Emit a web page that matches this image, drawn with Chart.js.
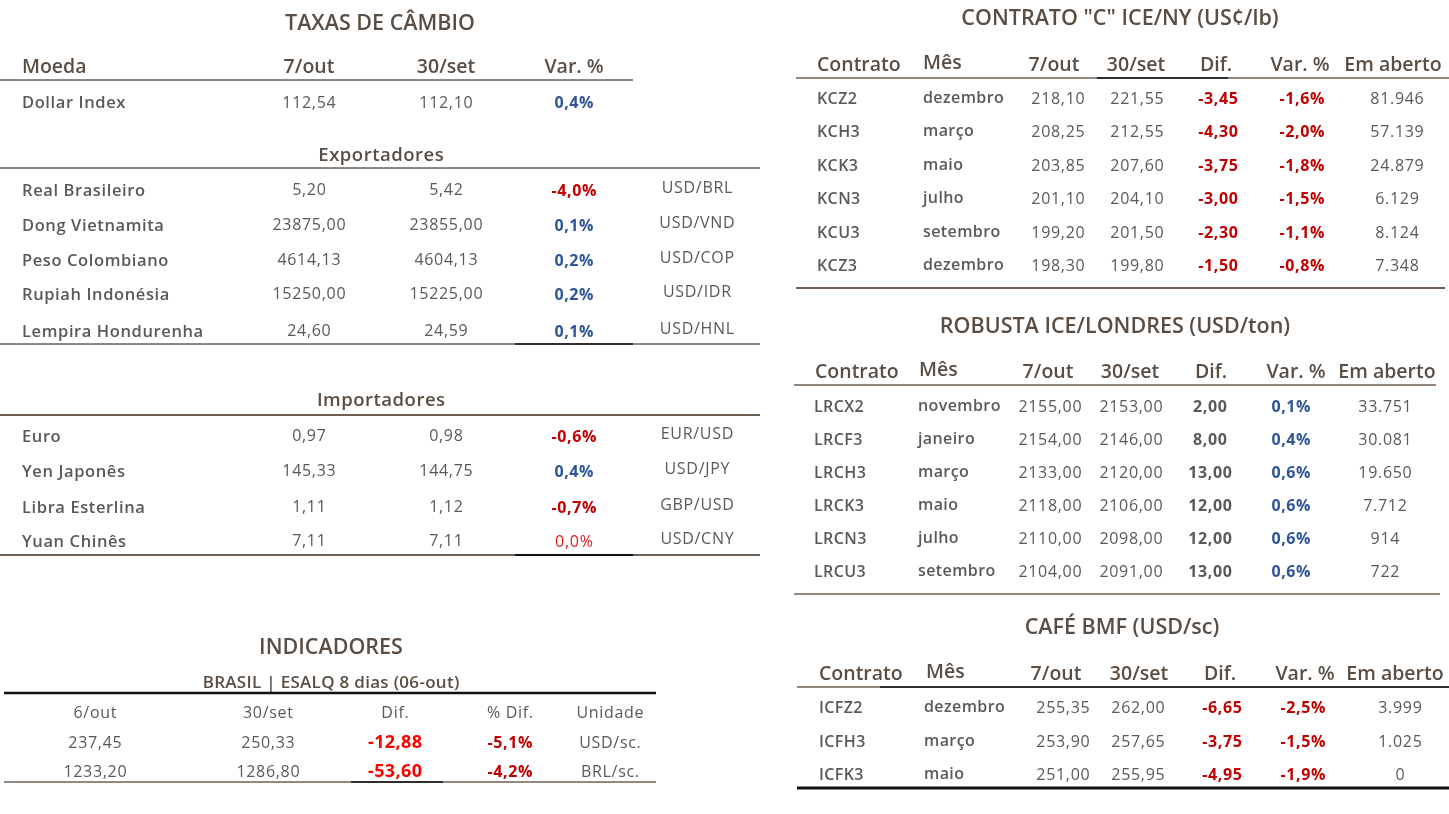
<!DOCTYPE html>
<html>
<head>
<meta charset="utf-8">
<script src="https://cdn.jsdelivr.net/npm/chart.js@4.4.0/dist/chart.umd.min.js"></script>
<style>
html,body{margin:0;padding:0;background:#fff;}
#wrap{width:1449px;height:814px;position:relative;}
</style>
</head>
<body>
<div id="wrap"><canvas id="c"></canvas></div>
<script>
// ===== DATA =====
const fxTitle = 'TAXAS DE CÂMBIO';
const fxHeader = ['Moeda', '7/out', '30/set', 'Var. %'];
const dollarIndex = ['Dollar Index', '112,54', '112,10', '0,4%'];

const exportTitle = 'Exportadores';
const exportNames = ['Real Brasileiro', 'Dong Vietnamita', 'Peso Colombiano', 'Rupiah Indonésia', 'Lempira Hondurenha'];
const export7out = ['5,20', '23875,00', '4614,13', '15250,00', '24,60'];
const export30set = ['5,42', '23855,00', '4604,13', '15225,00', '24,59'];
const exportVar = ['-4,0%', '0,1%', '0,2%', '0,2%', '0,1%'];
const exportPairs = ['USD/BRL', 'USD/VND', 'USD/COP', 'USD/IDR', 'USD/HNL'];

const importTitle = 'Importadores';
const importNames = ['Euro', 'Yen Japonês', 'Libra Esterlina', 'Yuan Chinês'];
const import7out = ['0,97', '145,33', '1,11', '7,11'];
const import30set = ['0,98', '144,75', '1,12', '7,11'];
const importVar = ['-0,6%', '0,4%', '-0,7%', '0,0%'];
const importPairs = ['EUR/USD', 'USD/JPY', 'GBP/USD', 'USD/CNY'];

const indTitle = 'INDICADORES';
const indSubtitle = 'BRASIL | ESALQ 8 dias (06-out)';
const indHeader = ['6/out', '30/set', 'Dif.', '% Dif.', 'Unidade'];
const ind6out = ['237,45', '1233,20'];
const ind30set = ['250,33', '1286,80'];
const indDif = ['-12,88', '-53,60'];
const indPctDif = ['-5,1%', '-4,2%'];
const indUnit = ['USD/sc.', 'BRL/sc.'];

const contractHeader = ['Contrato', 'Mês', '7/out', '30/set', 'Dif.', 'Var. %', 'Em aberto'];

const kcTitle = 'CONTRATO "C" ICE/NY (US¢/lb)';
const kcCodes = ['KCZ2', 'KCH3', 'KCK3', 'KCN3', 'KCU3', 'KCZ3'];
const kcMonths = ['dezembro', 'março', 'maio', 'julho', 'setembro', 'dezembro'];
const kc7out = ['218,10', '208,25', '203,85', '201,10', '199,20', '198,30'];
const kc30set = ['221,55', '212,55', '207,60', '204,10', '201,50', '199,80'];
const kcDif = ['-3,45', '-4,30', '-3,75', '-3,00', '-2,30', '-1,50'];
const kcVar = ['-1,6%', '-2,0%', '-1,8%', '-1,5%', '-1,1%', '-0,8%'];
const kcOpen = ['81.946', '57.139', '24.879', '6.129', '8.124', '7.348'];

const lrTitle = 'ROBUSTA ICE/LONDRES (USD/ton)';
const lrCodes = ['LRCX2', 'LRCF3', 'LRCH3', 'LRCK3', 'LRCN3', 'LRCU3'];
const lrMonths = ['novembro', 'janeiro', 'março', 'maio', 'julho', 'setembro'];
const lr7out = ['2155,00', '2154,00', '2133,00', '2118,00', '2110,00', '2104,00'];
const lr30set = ['2153,00', '2146,00', '2120,00', '2106,00', '2098,00', '2091,00'];
const lrDif = ['2,00', '8,00', '13,00', '12,00', '12,00', '13,00'];
const lrVar = ['0,1%', '0,4%', '0,6%', '0,6%', '0,6%', '0,6%'];
const lrOpen = ['33.751', '30.081', '19.650', '7.712', '914', '722'];

const icfTitle = 'CAFÉ BMF (USD/sc)';
const icfCodes = ['ICFZ2', 'ICFH3', 'ICFK3'];
const icfMonths = ['dezembro', 'março', 'maio'];
const icf7out = ['255,35', '253,90', '251,00'];
const icf30set = ['262,00', '257,65', '255,95'];
const icfDif = ['-6,65', '-3,75', '-4,95'];
const icfVar = ['-2,5%', '-1,5%', '-1,9%'];
const icfOpen = ['3.999', '1.025', '0'];

// ===== STYLE =====
const FAM = '"Open Sans", "Lato", sans-serif';
const C = {
  title: '#5a4e44', text: '#595959', line: '#6e6154', black: '#111111',
  blue: '#2e5597', red: '#c00000', bright: '#ff0000', redLight: '#e0201c'
};
// [font, letterSpacing]
const F = {
  title: ['600 21.5px ' + FAM, 0],
  head: ['600 19.5px ' + FAM, 0],
  sub: ['600 18.5px ' + FAM, 0.5],
  indSub: ['600 17px ' + FAM, 0.3],
  label: ['600 16px ' + FAM, 0.4],
  fxLabel: ['600 16.5px ' + FAM, 0.6],
  num: ['400 16px ' + FAM, 0.7],
  numB: ['700 16px ' + FAM, 0.6],
  bigRed: ['700 18px ' + FAM, 0.4]
};
const DY = 2; // baseline tweak
const varColor = s => s.startsWith('-') ? C.red : (/^0,0/.test(s) ? C.bright : C.blue);

// ===== LAYOUT (positions in scale units) =====
const L = {
  fx: {title: [380, 22], headY: 65, headLine: [80, 0, 633], cols: [22, 309, 446, 574, 697],
       dollarY: 101, expTitleY: 154, expLine: 168, expRows: [189, 224, 259, 293, 330],
       expEnd: 344, impTitleY: 399, impLine: 415, impRows: [435, 470, 506, 540], impEnd: 555,
       tableW: 760, blackSeg: [515, 633]},
  ind: {title: [331, 646], sub: [331, 681], topLine: [693, 4, 656], headY: 711,
        cols: [95, 268, 395, 510, 610], rows: [741, 770], bottom: 782, blackSeg: [351, 443]},
  kc: {title: [1120, 17], headY: 63, line: [78, 796, 1449], lineBlack: [1097, 1228],
       cols: [817, 923, 1058, 1137, 1218, 1302, 1397], headCols: [817, 923, 1054, 1136, 1216, 1300, 1393],
       rows: [97, 130, 164, 197, 231, 264], bottom: [288, 796, 1445, 2]},
  lr: {title: [1115, 325], headY: 370, line: [385, 794, 1436], lineBlack: null,
       cols: [814, 918, 1050, 1131, 1210, 1291, 1385], headCols: [815, 919, 1048, 1130, 1211, 1296, 1387],
       rows: [405, 438, 471, 504, 537, 570], bottom: [594, 794, 1440, 1.3]},
  icf: {title: [1122, 626], headY: 672, line: [687, 797, 1449], lineBlack: [880, 1449],
        cols: [819, 924, 1063, 1138, 1222, 1303, 1400], headCols: [819, 926, 1056, 1139, 1220, 1305, 1395],
        rows: [706, 740, 773], bottom: [788, 797, 1449, 3, true]}
};

// ===== DRAWING PLUGIN =====
const tablePlugin = {
  id: 'tables',
  afterDraw(chart) {
    const ctx = chart.ctx;
    const X = v => chart.scales.x.getPixelForValue(v);
    const Y = v => chart.scales.y.getPixelForValue(v);
    const T = (s, x, y, f, color, align) => {
      ctx.font = f[0]; ctx.fillStyle = color;
      const ls = f[1] || 0;
      ctx.letterSpacing = ls + 'px';
      align = align || 'center';
      ctx.textAlign = align;
      ctx.textBaseline = 'middle';
      const shift = align === 'center' ? ls / 2 : 0;
      ctx.fillText(s, X(x) + shift, Y(y + DY));
    };
    const H = (y, x1, x2, w, color) => {
      ctx.beginPath(); ctx.strokeStyle = color; ctx.lineWidth = w;
      ctx.moveTo(X(x1), Y(y)); ctx.lineTo(X(x2), Y(y)); ctx.stroke();
    };
    ctx.save();

    // --- FX table ---
    const fx = L.fx;
    T(fxTitle, fx.title[0], fx.title[1], F.title, C.title);
    T(fxHeader[0], fx.cols[0], fx.headY, F.head, C.title, 'left');
    for (let i = 1; i < 4; i++) T(fxHeader[i], fx.cols[i], fx.headY, F.head, C.title);
    H(fx.headLine[0], fx.headLine[1], fx.headLine[2], 1.3, C.line);
    T(dollarIndex[0], fx.cols[0], fx.dollarY, F.fxLabel, C.text, 'left');
    T(dollarIndex[1], fx.cols[1], fx.dollarY, F.num, C.text);
    T(dollarIndex[2], fx.cols[2], fx.dollarY, F.num, C.text);
    T(dollarIndex[3], fx.cols[3], fx.dollarY, F.numB, varColor(dollarIndex[3]));

    const fxRows = (names, a, b, v, p, ys) => {
      names.forEach((n, i) => {
        const y = ys[i];
        T(n, fx.cols[0], y, F.fxLabel, C.text, 'left');
        T(a[i], fx.cols[1], y - 1, F.num, C.text);
        T(b[i], fx.cols[2], y - 1, F.num, C.text);
        const isZero = /^0,0/.test(v[i]);
        T(v[i], fx.cols[3], y, isZero ? F.num : F.numB, isZero ? C.redLight : varColor(v[i]));
        T(p[i], fx.cols[4], y - 3, F.num, C.text);
      });
    };
    T(exportTitle, 381, fx.expTitleY, F.sub, C.title);
    H(fx.expLine, 0, fx.tableW, 1.3, C.line);
    fxRows(exportNames, export7out, export30set, exportVar, exportPairs, fx.expRows);
    H(fx.expEnd, 0, fx.tableW, 1.3, C.line);
    H(fx.expEnd, fx.blackSeg[0], fx.blackSeg[1], 1.3, C.black);

    T(importTitle, 381, fx.impTitleY, F.sub, C.title);
    H(fx.impLine, 0, fx.tableW, 2.2, C.line);
    fxRows(importNames, import7out, import30set, importVar, importPairs, fx.impRows);
    H(fx.impEnd, 0, fx.tableW, 2.2, C.line);
    H(fx.impEnd, fx.blackSeg[0], fx.blackSeg[1], 2.2, C.black);

    // --- Indicadores ---
    const ind = L.ind;
    T(indTitle, ind.title[0], ind.title[1], F.title, C.title);
    T(indSubtitle, ind.sub[0], ind.sub[1], F.indSub, C.title);
    H(ind.topLine[0], ind.topLine[1], ind.topLine[2], 2.6, C.black);
    indHeader.forEach((h, i) => T(h, ind.cols[i], ind.headY, F.num, C.text));
    ind.rows.forEach((y, i) => {
      T(ind6out[i], ind.cols[0], y, F.num, C.text);
      T(ind30set[i], ind.cols[1], y, F.num, C.text);
      T(indDif[i], ind.cols[2], y, F.bigRed, C.bright);
      T(indPctDif[i], ind.cols[3], y, F.numB, C.red);
      T(indUnit[i], ind.cols[4], y, F.num, C.text);
    });
    H(ind.bottom, ind.topLine[1], ind.topLine[2], 1.3, C.line);
    H(ind.bottom, ind.blackSeg[0], ind.blackSeg[1], 1.3, C.black);

    // --- Contract tables ---
    const contract = (cfg, title, codes, months, a, b, dif, vr, open) => {
      T(title, cfg.title[0], cfg.title[1], F.title, C.title);
      T(contractHeader[0], cfg.headCols[0], cfg.headY, F.head, C.title, 'left');
      T(contractHeader[1], cfg.headCols[1], cfg.headY - 2, F.head, C.title, 'left');
      for (let i = 2; i < 7; i++) T(contractHeader[i], cfg.headCols[i], cfg.headY, F.head, C.title);
      H(cfg.line[0], cfg.line[1], cfg.line[2], 1.3, C.line);
      if (cfg.lineBlack) H(cfg.line[0], cfg.lineBlack[0], cfg.lineBlack[1], 1.3, C.black);
      cfg.rows.forEach((y, i) => {
        T(codes[i], cfg.cols[0], y, F.label, C.text, 'left');
        T(months[i], cfg.cols[1], y - 1, F.label, C.text, 'left');
        T(a[i], cfg.cols[2], y, F.num, C.text);
        T(b[i], cfg.cols[3], y, F.num, C.text);
        T(dif[i], cfg.cols[4], y, F.numB, dif[i].startsWith('-') ? C.red : C.text);
        T(vr[i], cfg.cols[5], y, F.numB, varColor(vr[i]));
        T(open[i], cfg.cols[6], y, F.num, C.text);
      });
      const bt = cfg.bottom;
      H(bt[0], bt[1], bt[2], bt[3], bt[4] ? C.black : C.line);
    };
    contract(L.kc, kcTitle, kcCodes, kcMonths, kc7out, kc30set, kcDif, kcVar, kcOpen);
    contract(L.lr, lrTitle, lrCodes, lrMonths, lr7out, lr30set, lrDif, lrVar, lrOpen);
    contract(L.icf, icfTitle, icfCodes, icfMonths, icf7out, icf30set, icfDif, icfVar, icfOpen);

    ctx.letterSpacing = '0px';
    ctx.restore();
  }
};

new Chart(document.getElementById('c'), {
  type: 'scatter',
  data: {datasets: [{data: [], pointRadius: 0}]},
  options: {
    responsive: true, maintainAspectRatio: false, animation: false,
    layout: {padding: 0},
    plugins: {legend: {display: false}, tooltip: {enabled: false}},
    scales: {
      x: {type: 'linear', min: 0, max: 1449, display: false},
      y: {type: 'linear', min: 0, max: 814, reverse: true, display: false}
    }
  },
  plugins: [tablePlugin]
});
</script>
</body>
</html>
